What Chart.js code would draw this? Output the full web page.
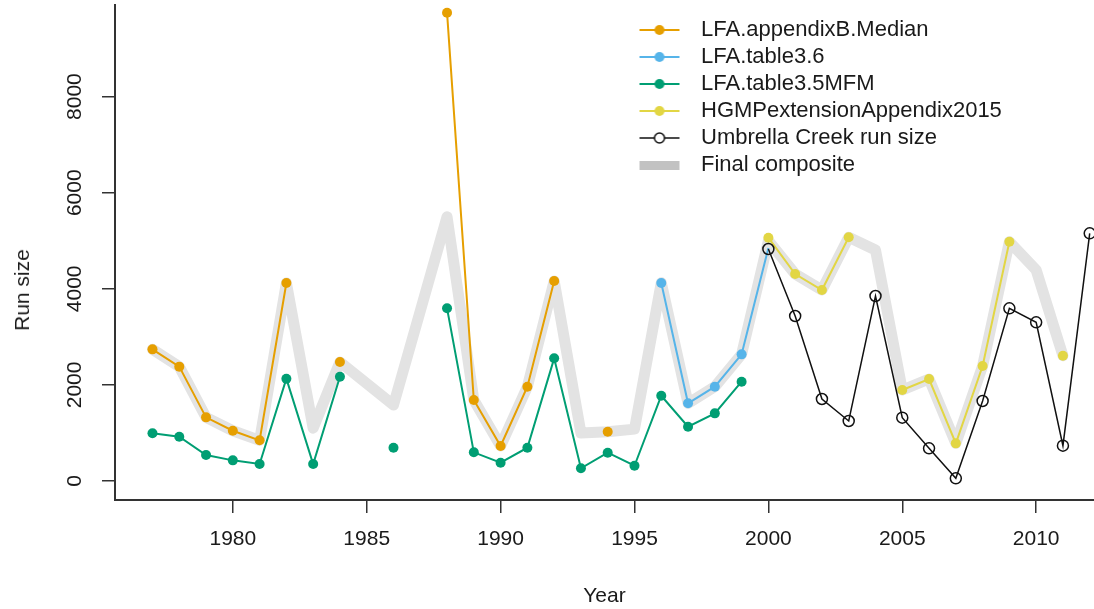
<!DOCTYPE html>
<html>
<head>
<meta charset="utf-8">
<title>Run size</title>
<script src="https://cdn.jsdelivr.net/npm/chart.js@4.4.1/dist/chart.umd.min.js"></script>
<style>
  html, body { margin: 0; padding: 0; background: #fff; overflow: hidden; }
  #wrap { position: relative; width: 1094px; height: 609px; }
  #ylab {
    position: absolute; left: 22px; top: 290px;
    transform: translate(-50%, -50%) rotate(-90deg);
    font: 21px "Liberation Sans", Arial, sans-serif; color: #1a1a1a; white-space: nowrap;
  }
</style>
</head>
<body>
<div id="wrap">
  <canvas id="chart"></canvas>
  <div id="ylab">Run size</div>
</div>
<script>
// Data
const years = [1977, 1978, 1979, 1980, 1981, 1982, 1983, 1984, 1985, 1986, 1987, 1988,
               1989, 1990, 1991, 1992, 1993, 1994, 1995, 1996, 1997, 1998, 1999, 2000,
               2001, 2002, 2003, 2004, 2005, 2006, 2007, 2008, 2009, 2010, 2011, 2012];

const appendixB = [2740, 2380, 1325, 1047, 847, 4121, null, 2477, null, null, null, 9746,
                   1686, 728, 1963, 4162, null, 1026, null, null, null, null, null, null,
                   null, null, null, null, null, null, null, null, null, null, null, null];

const table36 = [null, null, null, null, null, null, null, null, null, null, null, null,
                 null, null, null, null, null, null, null, 4120, 1617, 1963, 2636, 4850,
                 null, null, null, null, null, null, null, null, null, null, null, null];

const table35 = [993, 922, 541, 430, 354, 2129, 354, 2171, null, 693, null, 3594,
                 597, 381, 693, 2553, 264, 589, 318, 1775, 1131, 1408, 2067, null,
                 null, null, null, null, null, null, null, null, null, null, null, null];

const hgmp = [null, null, null, null, null, null, null, null, null, null, null, null,
              null, null, null, null, null, null, null, null, null, null, null, 5064,
              4308, 3975, 5072, null, 1894, 2123, 784, 2393, 4980, null, 2608, null];

const umbrella = [null, null, null, null, null, null, null, null, null, null, null, null,
                  null, null, null, null, null, null, null, null, null, null, null, 4828,
                  3434, 1707, 1249, 3850, 1318, 680, 56, 1665, 3594, 3303, 735, 5155];

const composite = [2740, 2380, 1325, 1047, 847, 4121, 1100, 2477, 2030, 1580, 3540, 5500,
                   1686, 728, 1963, 4162, 1000, 1026, 1080, 4127, 1617, 1963, 2636, 5000,
                   4308, 3975, 5072, 4808, 1894, 2123, 784, 2393, 4980, 4391, 2608, null];

const xTicks = [1980, 1985, 1990, 1995, 2000, 2005, 2010];
const yTicks = [0, 2000, 4000, 6000, 8000];

const textColor = '#1a1a1a';
const axisColor = '#333';
const fontFamily = '"Liberation Sans", Arial, sans-serif';

function pts(series) {
    return years.map((yr, i) => ({ x: yr, y: series[i] }));
}

// little line+marker swatches for the legend
function legendIcon(color, kind) {
    const c = document.createElement('canvas');
    c.width = 60;
    c.height = 14;
    const g = c.getContext('2d');
    if (kind === 'band') {
        g.fillStyle = color;
        g.fillRect(10, 3, 40, 9);
        return c;
    }
    g.strokeStyle = color;
    g.lineWidth = kind === 'open' ? 1.5 : 2;
    g.beginPath();
    if (kind === 'open') {
        g.moveTo(10, 7); g.lineTo(25, 7);
        g.moveTo(35, 7); g.lineTo(50, 7);
    } else {
        g.moveTo(10, 7); g.lineTo(50, 7);
    }
    g.stroke();
    g.beginPath();
    g.arc(30, 7, 5, 0, Math.PI * 2);
    if (kind === 'open') {
        g.stroke();
    } else {
        g.fillStyle = color;
        g.fill();
    }
    return c;
}

function lineSet(label, series, color, order) {
    return {
        label: label,
        data: pts(series),
        borderColor: color,
        backgroundColor: color,
        borderWidth: 2,
        pointRadius: 5,
        pointBorderWidth: 0,
        pointBackgroundColor: color,
        tension: 0,
        clip: false,
        order: order
    };
}

const blueSet = lineSet('LFA.table3.6', table36, '#56B4E9', 3);
// the table3.6 line runs into 2000 without its own marker
blueSet.pointRadius = ctx => (ctx.raw && ctx.raw.x === 2000 ? 0 : 5);

const datasets = [
    lineSet('LFA.appendixB.Median', appendixB, '#E69F00', 4),
    blueSet,
    lineSet('LFA.table3.5MFM', table35, '#009E73', 2),
    lineSet('HGMPextensionAppendix2015', hgmp, '#E2D644', 1),
    {
        label: 'Umbrella Creek run size',
        data: pts(umbrella),
        borderColor: '#111',
        borderWidth: 1.5,
        pointRadius: 5.5,
        pointBorderWidth: 1.5,
        pointBorderColor: '#111',
        pointBackgroundColor: 'rgba(0,0,0,0)',
        tension: 0,
        clip: false,
        order: 0
    },
    {
        label: 'Final composite',
        data: pts(composite),
        borderColor: '#e3e3e3',
        borderWidth: 11,
        borderJoinStyle: 'round',
        borderCapStyle: 'round',
        pointRadius: 0,
        tension: 0,
        clip: false,
        order: 5
    }
];

const icons = [
    legendIcon('#E69F00', 'dot'),
    legendIcon('#56B4E9', 'dot'),
    legendIcon('#009E73', 'dot'),
    legendIcon('#E2D644', 'dot'),
    legendIcon('#111', 'open'),
    legendIcon('#c2c2c2', 'band')
];

// put the legend in the upper right of the plot
const placeLegend = {
    id: 'placeLegend',
    afterLayout(chart) {
        const lg = chart.legend;
        const w = lg.width, h = lg.height;
        lg.left = 624;
        lg.top = 14;
        lg.right = lg.left + w;
        lg.bottom = lg.top + h;
    }
};

const axisGrid = { drawOnChartArea: false, drawTicks: true, tickLength: 13, color: axisColor, lineWidth: 1.5 };
const axisBorder = { display: true, color: axisColor, width: 2 };

new Chart(document.getElementById('chart'), {
    type: 'line',
    data: { datasets: datasets },
    options: {
        responsive: true,
        maintainAspectRatio: false,
        animation: false,
        layout: { padding: { top: 5, left: 0, right: 0, bottom: 0 }, autoPadding: false },
        plugins: {
            tooltip: { enabled: false },
            legend: {
                position: 'chartArea',
                align: 'start',
                labels: {
                    usePointStyle: true,
                    pointStyleWidth: 61,
                    padding: 5,
                    color: textColor,
                    font: { family: fontFamily, size: 22 },
                    generateLabels: chart => chart.data.datasets.map((ds, i) => ({
                        text: ds.label,
                        pointStyle: icons[i],
                        fillStyle: 'rgba(0,0,0,0)',
                        strokeStyle: 'rgba(0,0,0,0)',
                        lineWidth: 0,
                        hidden: false,
                        fontColor: textColor,
                        datasetIndex: i
                    }))
                }
            }
        },
        scales: {
            x: {
                type: 'linear',
                min: 1975.6,
                max: 2012.16,
                afterBuildTicks: s => { s.ticks = xTicks.map(v => ({ value: v })); },
                afterFit: s => { s.height = 109; s.paddingLeft = 0; s.paddingRight = 0; },
                grid: axisGrid,
                border: axisBorder,
                ticks: {
                    autoSkip: false,
                    maxRotation: 0,
                    padding: 14,
                    color: textColor,
                    font: { family: fontFamily, size: 21 },
                    callback: v => String(v)
                },
                title: {
                    display: true,
                    text: 'Year',
                    color: textColor,
                    font: { family: fontFamily, size: 21 },
                    padding: { top: 0, bottom: 0 }
                }
            },
            y: {
                type: 'linear',
                min: -395,
                max: 9906,
                afterBuildTicks: s => { s.ticks = yTicks.map(v => ({ value: v })); },
                afterFit: s => { s.width = 115; s.paddingTop = 0; s.paddingBottom = 0; },
                grid: axisGrid,
                border: axisBorder,
                ticks: {
                    minRotation: 90,
                    maxRotation: 90,
                    crossAlign: 'center',
                    padding: 3,
                    color: textColor,
                    font: { family: fontFamily, size: 21 },
                    callback: v => String(v)
                }
            }
        }
    },
    plugins: [placeLegend]
});
</script>
</body>
</html>
